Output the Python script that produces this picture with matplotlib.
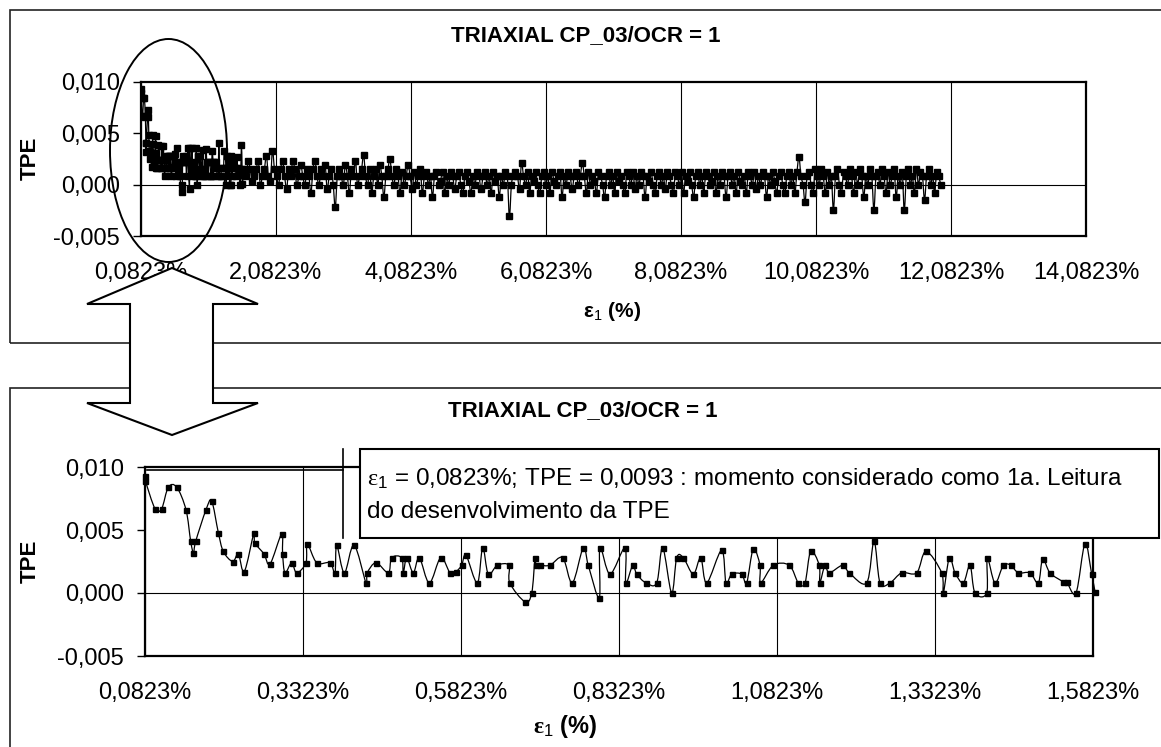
import numpy as np
import matplotlib.pyplot as plt
from matplotlib.patches import Rectangle, Ellipse, Polygon, PathPatch
from matplotlib.path import Path
from matplotlib.lines import Line2D

plt.rcParams['font.family'] = ['Liberation Sans', 'DejaVu Sans']
plt.rcParams['mathtext.fontset'] = 'custom'
plt.rcParams['mathtext.rm'] = 'Liberation Serif'
plt.rcParams['mathtext.it'] = 'Liberation Serif:italic'
plt.rcParams['mathtext.bf'] = 'Liberation Serif:bold'
plt.rcParams['mathtext.sf'] = 'Liberation Sans'

W, H = 1161, 747

# ---- data ----
# first 1.5 % of strain (bottom chart, also start of the top chart)
strain_zoom = [0.0823, 0.0830, 0.0981, 0.1087, 0.1192, 0.1325, 0.1472, 0.1546, 0.1590, 0.1625,
               0.1788, 0.1878, 0.1983, 0.2062, 0.2211, 0.2300, 0.2394, 0.2548, 0.2560, 0.2706,
               0.2801, 0.2986, 0.3000, 0.3038, 0.3144, 0.3223, 0.3370, 0.3391, 0.3540, 0.3750,
               0.3829, 0.3856, 0.3977, 0.4130, 0.4320, 0.4340, 0.4478, 0.4673, 0.4726, 0.4885,
               0.4910, 0.4964, 0.5068, 0.5163, 0.5322, 0.5502, 0.5649, 0.5744, 0.5834, 0.5902,
               0.6081, 0.6166, 0.6255, 0.6397, 0.6580, 0.6595, 0.6836, 0.6942, 0.6994, 0.7010,
               0.7073, 0.7231, 0.7432, 0.7584, 0.7758, 0.7837, 0.8011, 0.8022, 0.8181, 0.8418,
               0.8430, 0.8540, 0.8603, 0.8750, 0.8919, 0.9014, 0.9156, 0.9236, 0.9341, 0.9499,
               0.9616, 0.9711, 0.9948, 1.0016, 1.0106, 1.0264, 1.0343, 1.0448, 1.0554, 1.0565,
               1.0765, 1.1018, 1.1160, 1.1266, 1.1356, 1.1492, 1.1500, 1.1582, 1.1650, 1.1862,
               1.1967, 1.2242, 1.2358, 1.2453, 1.2611, 1.2796, 1.3033, 1.3180, 1.3429, 1.3455,
               1.3550, 1.3640, 1.3771, 1.3877, 1.3956, 1.4141, 1.4150, 1.4272, 1.4404, 1.4521,
               1.4642, 1.4826, 1.4958, 1.5027, 1.5142, 1.5353, 1.5406, 1.5554, 1.5696, 1.5802,
               1.5855]
tpe_zoom = [0.0093, 0.0089, 0.0067, 0.0067, 0.0084, 0.0084, 0.0066, 0.0041, 0.0032, 0.0041,
            0.0066, 0.0073, 0.0048, 0.0033, 0.0025, 0.0031, 0.0017, 0.0048, 0.0040, 0.0031,
            0.0023, 0.0047, 0.0031, 0.0016, 0.0024, 0.0016, 0.0024, 0.0039, 0.0024, 0.0024,
            0.0016, 0.0038, 0.0016, 0.0038, 0.0008, 0.0016, 0.0024, 0.0016, 0.0028, 0.0028,
            0.0016, 0.0028, 0.0016, 0.0028, 0.0008, 0.0028, 0.0016, 0.0017, 0.0022, 0.0030,
            0.0008, 0.0036, 0.0015, 0.0022, 0.0022, 0.0008, -0.0007, 0.0000, 0.0028, 0.0022,
            0.0022, 0.0022, 0.0028, 0.0008, 0.0036, 0.0022, -0.0004, 0.0036, 0.0015, 0.0036,
            0.0008, 0.0022, 0.0015, 0.0008, 0.0008, 0.0036, 0.0000, 0.0028, 0.0028, 0.0015,
            0.0028, 0.0008, 0.0034, 0.0008, 0.0015, 0.0015, 0.0008, 0.0035, 0.0022, 0.0008,
            0.0022, 0.0022, 0.0008, 0.0008, 0.0033, 0.0022, 0.0008, 0.0022, 0.0016, 0.0022,
            0.0016, 0.0008, 0.0041, 0.0008, 0.0008, 0.0016, 0.0016, 0.0033, 0.0016, 0.0000,
            0.0028, 0.0016, 0.0008, 0.0022, 0.0000, 0.0000, 0.0028, 0.0008, 0.0022, 0.0022,
            0.0016, 0.0016, 0.0008, 0.0027, 0.0016, 0.0009, 0.0009, 0.0000, 0.0039, 0.0015,
            0.0001]

# rest of the test (top chart only); TPE in units of 1e-4
strain_tail = [1.61, 1.64, 1.67, 1.70, 1.73, 1.76, 1.79, 1.82, 1.85, 1.88, 1.91, 1.94, 1.97, 2.00, 2.03,
               2.06, 2.09, 2.12, 2.15, 2.18, 2.21, 2.24, 2.27, 2.30, 2.33, 2.36, 2.39, 2.42, 2.45, 2.48,
               2.51, 2.54, 2.57, 2.60, 2.63, 2.66, 2.69, 2.72, 2.75, 2.78, 2.81, 2.84, 2.87, 2.90, 2.93,
               2.96, 2.99, 3.02, 3.05, 3.08, 3.11, 3.14, 3.17, 3.20, 3.23, 3.26, 3.29, 3.32, 3.35, 3.38,
               3.41, 3.44, 3.47, 3.50, 3.53, 3.56, 3.59, 3.62, 3.65, 3.68, 3.71, 3.74, 3.77, 3.80, 3.83,
               3.86, 3.89, 3.92, 3.95, 3.98, 4.01, 4.04, 4.07, 4.10, 4.13, 4.16, 4.19, 4.22, 4.25, 4.28,
               4.31, 4.34, 4.37, 4.40, 4.43, 4.46, 4.49, 4.52, 4.55, 4.58, 4.61, 4.64, 4.67, 4.70, 4.73,
               4.76, 4.79, 4.82, 4.85, 4.88, 4.91, 4.94, 4.97, 5.00, 5.03, 5.06, 5.09, 5.12, 5.15, 5.18,
               5.21, 5.24, 5.27, 5.30, 5.33, 5.36, 5.39, 5.42, 5.45, 5.48, 5.51, 5.54, 5.57, 5.60, 5.63,
               5.66, 5.69, 5.72, 5.75, 5.78, 5.81, 5.84, 5.87, 5.90, 5.93, 5.96, 5.99, 6.02, 6.05, 6.08,
               6.11, 6.14, 6.17, 6.20, 6.23, 6.26, 6.29, 6.32, 6.35, 6.38, 6.41, 6.44, 6.47, 6.50, 6.53,
               6.56, 6.59, 6.62, 6.65, 6.68, 6.71, 6.74, 6.77, 6.80, 6.83, 6.86, 6.89, 6.92, 6.95, 6.98,
               7.01, 7.04, 7.07, 7.10, 7.13, 7.16, 7.19, 7.22, 7.25, 7.28, 7.31, 7.34, 7.37, 7.40, 7.43,
               7.46, 7.49, 7.52, 7.55, 7.58, 7.61, 7.64, 7.67, 7.70, 7.73, 7.76, 7.79, 7.82, 7.85, 7.88,
               7.91, 7.94, 7.97, 8.00, 8.03, 8.06, 8.09, 8.12, 8.15, 8.18, 8.21, 8.24, 8.27, 8.30, 8.33,
               8.36, 8.39, 8.42, 8.45, 8.48, 8.51, 8.54, 8.57, 8.60, 8.63, 8.66, 8.69, 8.72, 8.75, 8.78,
               8.81, 8.84, 8.87, 8.90, 8.93, 8.96, 8.99, 9.02, 9.05, 9.08, 9.11, 9.14, 9.17, 9.20, 9.23,
               9.26, 9.29, 9.32, 9.35, 9.38, 9.41, 9.44, 9.47, 9.50, 9.53, 9.56, 9.59, 9.62, 9.65, 9.68,
               9.71, 9.74, 9.77, 9.80, 9.83, 9.86, 9.89, 9.92, 9.95, 9.98, 10.01, 10.04, 10.07, 10.10, 10.13,
               10.16, 10.19, 10.22, 10.25, 10.28, 10.31, 10.34, 10.37, 10.40, 10.43, 10.46, 10.49, 10.52, 10.55, 10.58,
               10.61, 10.64, 10.67, 10.70, 10.73, 10.76, 10.79, 10.82, 10.85, 10.88, 10.91, 10.94, 10.97, 11.00, 11.03,
               11.06, 11.09, 11.12, 11.15, 11.18, 11.21, 11.24, 11.27, 11.30, 11.33, 11.36, 11.39, 11.42, 11.45, 11.48,
               11.51, 11.54, 11.57, 11.60, 11.63, 11.66, 11.69, 11.72, 11.75, 11.78, 11.81, 11.84, 11.87, 11.90, 11.93]
tpe_tail_e4 = [15, 8, 23, 15, 4, 8, 15, 23, 0, 8, 15, 28, 8, 4, 33,
               15, 8, 0, 15, 23, 8, -4, 15, 8, 23, 15, 0, 8, 19, 8,
               0, 15, 8, -8, 15, 23, 8, 0, 15, 8, 19, -4, 8, 15, 0,
               -22, 8, 15, 8, 0, 19, 8, -8, 15, 8, 23, 0, 8, 15, 29,
               8, 0, 15, -8, 8, 15, 0, 19, 8, -12, 8, 15, 25, 8, 0,
               15, 8, -8, 12, 0, 8, 19, 8, -4, 12, 0, 8, 15, -8, 8,
               12, 0, 8, -12, 8, 12, 0, 4, 12, -8, 8, 0, 12, 8, -4,
               8, 12, 0, -8, 8, 12, 4, -8, 8, 0, 12, 8, -4, 8, 12,
               0, 8, -8, 12, 4, 8, -12, 8, 0, 12, 8, -31, 0, 8, 12,
               8, -4, 21, 8, 0, 12, -8, 8, 4, 12, 0, -8, 8, 12, 0,
               8, -8, 12, 4, 0, 8, 12, -12, 8, 0, 12, 8, -4, 8, 12,
               0, 8, 21, 8, -8, 12, 0, 8, 4, -8, 12, 8, 0, -12, 8,
               12, 0, 8, -8, 12, 4, 8, 0, -8, 12, 8, 0, 12, -4, 8,
               0, 12, 8, -12, 8, 4, 12, 0, -8, 8, 12, 0, 8, -4, 12,
               8, 0, -8, 12, 8, 0, 12, -8, 8, 4, 12, 0, -12, 8, 12,
               0, 8, -8, 12, 8, 0, 4, 12, -8, 8, 0, 12, 8, -12, 8,
               12, 0, 8, -8, 12, 4, 0, 8, -8, 12, 8, 0, 12, -4, 8,
               0, 12, 8, -12, 8, 0, 12, 4, -8, 8, 12, 0, -8, 8, 12,
               0, 8, -8, 12, 27, 8, 0, -17, 8, 12, 0, -8, 15, 8, 0,
               15, 8, -8, 12, 0, 8, -25, 8, 15, 0, -8, 12, 8, 0, 15,
               8, -8, 12, 0, 15, 8, -12, 8, 0, 15, 8, -25, 8, 12, 0,
               15, 8, -8, 12, 0, 8, 15, -12, 8, 0, 12, -25, 8, 15, 0,
               8, -8, 15, 0, 12, 8, -15, 8, 15, 0, 8, -8, 12, 8, 0]
tpe_tail = [v * 1e-4 for v in tpe_tail_e4]

xticks_top = [0.0823, 2.0823, 4.0823, 6.0823, 8.0823, 10.0823, 12.0823, 14.0823]
xlabels_top = ['0,0823%', '2,0823%', '4,0823%', '6,0823%', '8,0823%', '10,0823%', '12,0823%', '14,0823%']
xticks_zoom = [0.0823, 0.3323, 0.5823, 0.8323, 1.0823, 1.3323, 1.5823]
xlabels_zoom = ['0,0823%', '0,3323%', '0,5823%', '0,8323%', '1,0823%', '1,3323%', '1,5823%']
yticks = [-0.005, 0.0, 0.005, 0.010]
ylabels = ['-0,005', '0,000', '0,005', '0,010']

title = 'TRIAXIAL CP_03/OCR = 1'
note1 = r'$\mathrm{\varepsilon}_{\mathsf{1}}$ = 0,0823%; TPE = 0,0093 : momento considerado como 1a. Leitura'
note2 = 'do desenvolvimento da TPE'


def fx(px):
    return px / W


def fy(py):
    return 1 - py / H


def make_axes(left, top, right, bottom):
    return fig.add_axes([fx(left), fy(bottom), (right - left) / W, (bottom - top) / H])


def smooth_line(ax, x, y, ms, clip=True):
    # excel style smoothed line: bezier through every point
    x = np.asarray(x, float)
    y = np.asarray(y, float)
    n = len(x)
    verts = [(x[0], y[0])]
    codes = [Path.MOVETO]
    for i in range(n - 1):
        i0 = max(i - 1, 0)
        i3 = min(i + 2, n - 1)
        c1 = (x[i] + (x[i + 1] - x[i0]) / 6, y[i] + (y[i + 1] - y[i0]) / 6)
        c2 = (x[i + 1] - (x[i3] - x[i]) / 6, y[i + 1] - (y[i3] - y[i]) / 6)
        verts += [c1, c2, (x[i + 1], y[i + 1])]
        codes += [Path.CURVE4] * 3
    p = PathPatch(Path(verts, codes), fill=False, ec='black', lw=0.9, clip_on=clip)
    ax.add_patch(p)
    ax.plot(x, y, ls='none', marker='s', ms=ms, mfc='black', mec='black', clip_on=clip)


def style(ax, xt, xl):
    ax.set_ylim(-0.005, 0.010)
    ax.set_yticks(yticks, ylabels)
    ax.set_xticks(xt, xl)
    ax.tick_params(axis='x', length=0, pad=19, labelsize=17)
    ax.tick_params(axis='y', direction='out', length=6, width=1, pad=9, labelsize=17)
    ax.grid(axis='x', color='black', lw=0.8)
    ax.axhline(0, color='black', lw=0.8)
    for s in ax.spines.values():
        s.set_linewidth(1.6)


fig = plt.figure(figsize=(W / 100, H / 100), dpi=100)

# outer frames of the two charts
fig.patches.append(Rectangle((fx(10), fy(343)), fx(1200) - fx(10), fy(10) - fy(343),
                             transform=fig.transFigure, fill=False, lw=1.2, ec='#222222'))
fig.patches.append(Rectangle((fx(10), fy(800)), fx(1200) - fx(10), fy(388) - fy(800),
                             transform=fig.transFigure, fill=False, lw=1.2, ec='#222222'))

# top chart: whole test
ax1 = make_axes(141, 82, 1086, 236)
smooth_line(ax1, strain_zoom + strain_tail, tpe_zoom + tpe_tail, ms=4.2)
ax1.set_xlim(0.0823, 14.0823)
style(ax1, xticks_top, xlabels_top)

# bottom chart: first 1.5 %
ax2 = make_axes(145, 467, 1093, 656)
smooth_line(ax2, strain_zoom, tpe_zoom, ms=3.6, clip=False)
ax2.set_xlim(0.0823, 1.5823)
style(ax2, xticks_zoom, xlabels_zoom)

# titles and axis labels
fig.text(fx(586), fy(36), title, ha='center', va='center', fontsize=16, fontweight='bold')
fig.text(fx(583), fy(411), title, ha='center', va='center', fontsize=16, fontweight='bold')
fig.text(fx(612), fy(311), r'ε$_{\mathsf{1}}$ (%)', ha='center', va='center',
         fontsize=15, fontweight='bold')
fig.text(fx(565), fy(726), r'$\mathbf{\varepsilon}_{\mathsf{1}}$ (%)', ha='center', va='center',
         fontsize=17, fontweight='bold')
fig.text(fx(30), fy(158), 'TPE', ha='center', va='center', rotation=90, fontsize=16, fontweight='bold')
fig.text(fx(30), fy(561), 'TPE', ha='center', va='center', rotation=90, fontsize=16, fontweight='bold')

# ellipse marking the start of the test
fig.patches.append(Ellipse((fx(168.5), fy(150.5)), 117 / W, 223 / H, transform=fig.transFigure,
                           fill=False, lw=1.4, ec='black'))

# hollow double arrow between the charts
arrow_px = [(172, 268), (258, 304), (213, 304), (213, 403), (258, 403), (172, 435),
            (87, 403), (130, 403), (130, 304), (87, 304)]
fig.patches.append(Polygon([(fx(a), fy(b)) for a, b in arrow_px], closed=True,
                           transform=fig.transFigure, fc='white', ec='black', lw=1.5))

# callout box
fig.patches.append(Rectangle((fx(360), fy(538)), fx(1159) - fx(360), fy(449) - fy(538),
                             transform=fig.transFigure, fc='white', ec='black', lw=1.5))
fig.add_artist(Line2D([fx(343), fx(343)], [fy(449), fy(538)], transform=fig.transFigure,
                      color='black', lw=1.2))
fig.add_artist(Line2D([fx(147), fx(343)], [fy(470), fy(470)], transform=fig.transFigure,
                      color='black', lw=1.2))
fig.text(fx(367), fy(479), note1, ha='left', va='center', fontsize=17.5)
fig.text(fx(367), fy(512), note2, ha='left', va='center', fontsize=17.5)

fig.savefig('out.png', dpi=100, facecolor='white')
